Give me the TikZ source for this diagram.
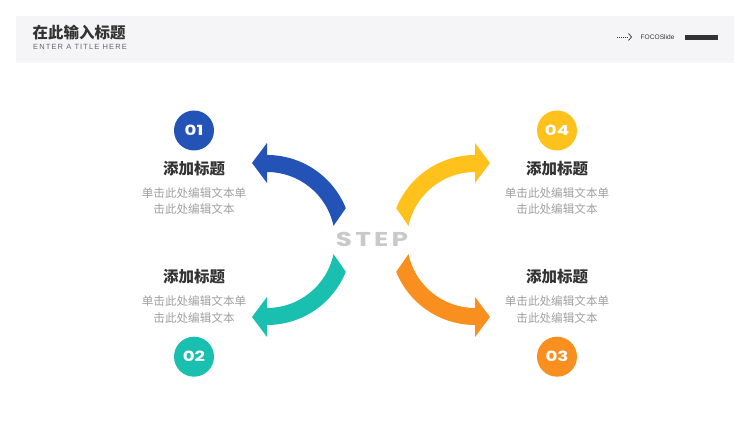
\documentclass[tikz,border=0pt]{standalone}
\usepackage{fontspec}
\newfontfamily\cjk{Noto Sans CJK SC}
\newfontfamily\pop{Poppins}
\newfontfamily\lat{Liberation Sans}
\definecolor{bandgray}{HTML}{F5F5F7}
\definecolor{ink}{HTML}{333333}
\definecolor{subgray}{HTML}{666666}
\definecolor{bodygray}{HTML}{A0A0A0}
\definecolor{stepgray}{HTML}{C9C9C9}
\definecolor{cblue}{HTML}{2453B8}
\definecolor{cteal}{HTML}{19BFAF}
\definecolor{cyellow}{HTML}{FFC21C}
\definecolor{corange}{HTML}{F88F1F}
\tikzset{
  numcirc/.style={circle, minimum size=40pt, inner sep=0pt, text=white, font=\pop\bfseries\fontsize{14}{14}\selectfont},
  headtxt/.style={inner sep=0pt, text=ink, font=\cjk\bfseries\fontsize{15.5}{15.5}\selectfont},
  bodytxt/.style={inner sep=0pt, text=bodygray, font=\cjk\fontsize{11.6}{11.6}\selectfont},
}
\newcommand{\bentarrow}{%
  ([shift={(-104,0)}]22:85pt) arc[start angle=22, end angle=90, radius=85pt]
  -- (-104,97) -- (-119,77) -- (-104,57) -- (-104,68)
  arc[start angle=90, end angle=12, radius=68pt] -- cycle}
\begin{document}
\begin{tikzpicture}[x=1pt,y=1pt]
\useasboundingbox (0,0) rectangle (750,422);
\fill[white] (0,0) rectangle (750,422);
% header band
\fill[bandgray] (16,359) rectangle (734,406);
\node[anchor=west, inner sep=0pt, text=ink, font=\cjk\bfseries\fontsize{15.5}{15.5}\selectfont] (title) at (32.5,389) {在此输入标题};
\node[anchor=west, inner sep=0pt, text=subgray, font=\lat\addfontfeature{LetterSpace=15}\fontsize{7.5}{7.5}\selectfont] (subtitle) at (33,375.5) {ENTER A TITLE HERE};
\draw[ink, line width=0.6pt, dash pattern=on 0.7pt off 1.2pt] (617,385) -- (627,385);
\draw[ink, line width=0.7pt] (628.5,388.5) -- (631.5,385) -- (628.5,381.5);
\node[anchor=west, inner sep=0pt, text=ink, font=\lat\fontsize{6.6}{6.6}\selectfont] (brand) at (640.5,385) {FOCOSlide};
\fill[ink] (685,382) rectangle (718,387);
% arrows
\begin{scope}[shift={(371,182)}]
  \fill[cblue] \bentarrow;
\end{scope}
\begin{scope}[shift={(371,182)}, xscale=-1]
  \fill[cyellow] \bentarrow;
\end{scope}
\begin{scope}[shift={(371,182)}, yscale=-1]
  \fill[cteal] \bentarrow;
\end{scope}
\begin{scope}[shift={(371,182)}, xscale=-1, yscale=-1]
  \fill[corange] \bentarrow;
\end{scope}
\node[inner sep=0pt, text=stepgray, font=\pop\bfseries\fontsize{20}{20}\selectfont] (step) at (372,183) {\scalebox{1.32}[1]{\addfontfeature{LetterSpace=12}STEP}};
% circles
\node[numcirc, fill=cblue] (n1) at (194,291.5) {\scalebox{1.3}[1]{01}};
\node[numcirc, fill=cyellow] (n4) at (557,291.5) {\scalebox{1.3}[1]{04}};
\node[numcirc, fill=cteal] (n2) at (194,65.3) {\scalebox{1.3}[1]{02}};
\node[numcirc, fill=corange] (n3) at (557,65.3) {\scalebox{1.3}[1]{03}};
% texts
\node[headtxt] (h1) at (194,253.7) {添加标题};
\node[bodytxt] (b1a) at (194,229) {单击此处编辑文本单};
\node[bodytxt] (b1b) at (194,212.5) {击此处编辑文本};
\node[headtxt] (h4) at (557,253.7) {添加标题};
\node[bodytxt] (b4a) at (557,229) {单击此处编辑文本单};
\node[bodytxt] (b4b) at (557,212.5) {击此处编辑文本};
\node[headtxt] (h2) at (194,145.5) {添加标题};
\node[bodytxt] (b2a) at (194,120.5) {单击此处编辑文本单};
\node[bodytxt] (b2b) at (194,104) {击此处编辑文本};
\node[headtxt] (h3) at (557,145.5) {添加标题};
\node[bodytxt] (b3a) at (557,120.5) {单击此处编辑文本单};
\node[bodytxt] (b3b) at (557,104) {击此处编辑文本};
\end{tikzpicture}
\end{document}
